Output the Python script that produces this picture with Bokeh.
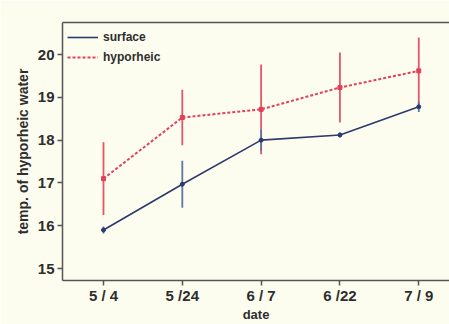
from bokeh.plotting import figure
from bokeh.models import FixedTicker, Range1d, Legend, LegendItem, LinearAxis
from bokeh.embed import file_html
from bokeh.resources import INLINE

dates = ["5 / 4", "5 /24", "6 / 7", "6 /22", "7 / 9"]
surface = [15.9, 16.97, 18.0, 18.12, 18.78]
surface_err = [0.08, 0.55, 0.25, 0.06, 0.12]
hyporheic = [17.1, 18.53, 18.72, 19.23, 19.62]
hyporheic_err = [0.85, 0.65, 1.05, 0.82, 0.78]
y_ticks = [15, 16, 17, 18, 19, 20]

x = list(range(len(dates)))
bg = "#fdfdef"
font = "Liberation Sans"
txt = "#2e2e2e"
spine = "#555555"

p = figure(width=449, height=324, output_backend="svg", toolbar_location=None,
           x_range=Range1d(-0.52, 4.39), y_range=Range1d(14.72, 20.75),
           min_border_left=62, min_border_top=22, min_border_right=0, min_border_bottom=39)
p.background_fill_color = bg
p.border_fill_color = bg
p.outline_line_color = None
p.grid.visible = False

bx = p.xaxis[0]
ly = p.yaxis[0]

# error bars
p.segment(x0=x, y0=[v - e for v, e in zip(hyporheic, hyporheic_err)],
          x1=x, y1=[v + e for v, e in zip(hyporheic, hyporheic_err)],
          line_color="#e2566a", line_width=1.8)
p.segment(x0=x, y0=[v - e for v, e in zip(surface, surface_err)],
          x1=x, y1=[v + e for v, e in zip(surface, surface_err)],
          line_color="#5a78a8", line_width=1.8)

l1 = p.line(x, surface, line_color="#2c3a6e", line_width=1.6)
p.scatter(x, surface, size=4, marker="circle", color="#2c3a6e")
l2 = p.line(x, hyporheic, line_color="#e2405a", line_width=2, line_dash="3 2")
p.scatter(x, hyporheic, size=4, marker="square", color="#e2405a")

legend = Legend(items=[LegendItem(label="surface", renderers=[l1]),
                       LegendItem(label="hyporheic", renderers=[l2])],
                location="top_left")
legend.background_fill_alpha = 0
legend.border_line_color = None
legend.label_text_font = font
legend.label_text_font_style = "bold"
legend.label_text_font_size = "12px"
legend.label_text_color = txt
legend.glyph_width = 31
legend.spacing = 0
legend.label_standoff = 5
legend.margin = 5
legend.padding = 0
p.add_layout(legend)

bx.ticker = FixedTicker(ticks=x)
bx.major_label_overrides = {i: d for i, d in enumerate(dates)}
ly.ticker = FixedTicker(ticks=y_ticks)
bx.axis_label = "date"
ly.axis_label = "temp. of hyporheic water"
for ax in (bx, ly):
    ax.axis_line_color = spine
    ax.axis_line_width = 1.5
    ax.major_tick_line_color = spine
    ax.major_tick_line_width = 1.5
    ax.major_tick_out = 5
    ax.major_tick_in = 0
    ax.minor_tick_line_color = None
    ax.major_label_text_font = font
    ax.major_label_text_font_style = "bold"
    ax.major_label_text_font_size = "15px"
    ax.major_label_text_color = txt
    ax.axis_label_text_font = font
    ax.axis_label_text_font_style = "bold"
    ax.axis_label_text_font_size = "13px"
    ax.axis_label_text_color = txt
ly.axis_label_text_font_size = "14px"
ly.major_label_standoff = 3
ly.axis_label_standoff = 4
bx.major_label_standoff = 1
bx.axis_label_standoff = 0

# top spine (no ticks, no labels)
top = LinearAxis(ticker=FixedTicker(ticks=[]), axis_line_color=spine, axis_line_width=1.5,
                 major_tick_line_color=None, minor_tick_line_color=None)
p.add_layout(top, "above")

open("out.html", "w").write(file_html(p, INLINE))
